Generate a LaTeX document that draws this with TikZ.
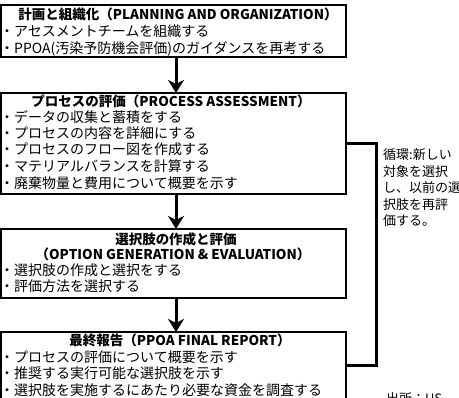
\documentclass[tikz,border=0pt]{standalone}
\usepackage{fontspec}
\setmainfont{Noto Sans CJK JP}
\usetikzlibrary{arrows.meta}
\begin{document}
\begin{tikzpicture}[x=1pt,y=-1pt,
  box/.style={draw, line width=1.3pt, minimum width=345pt, anchor=north west, inner sep=0pt, outer sep=0pt},
  ttl/.style={anchor=base, inner sep=0pt, font=\fontsize{13.5}{16}\selectfont\bfseries},
  itm/.style={anchor=base west, inner sep=0pt, font=\fontsize{14}{16}\selectfont},
  note/.style={anchor=base west, inner sep=0pt, font=\fontsize{13}{15}\selectfont},
  flow/.style={line width=3pt, -{Stealth[length=13pt,width=16pt,inset=4pt]}},
  loopline/.style={line width=3pt}]
\useasboundingbox (0,0) rectangle (459,398);
\clip (0,0) rectangle (459,398);
% boxes
\node[box, minimum height=52pt] (b1) at (1,5) {};
\node[box, minimum height=101pt] (b2) at (1,93) {};
\node[box, minimum height=69pt] (b3) at (1,229) {};
\node[box, minimum height=67pt] (b4) at (1,332) {};
% box 1
\node[ttl] (t1) at (178,19.5) {計画と組織化（PLANNING AND ORGANIZATION）};
\node[itm] (i11) at (0,37) {・アセスメントチームを組織する};
\node[itm] (i12) at (0,53.5) {・PPOA(汚染予防機会評価)のガイダンスを再考する};
% box 2
\node[ttl] (t2) at (171,107) {プロセスの評価（PROCESS ASSESSMENT）};
\node[itm] (i21) at (0,123) {・データの収集と蓄積をする};
\node[itm] (i22) at (0,139) {・プロセスの内容を詳細にする};
\node[itm] (i23) at (0,155) {・プロセスのフロー図を作成する};
\node[itm] (i24) at (0,172) {・マテリアルバランスを計算する};
\node[itm] (i25) at (0,189) {・廃棄物量と費用について概要を示す};
% box 3
\node[ttl] (t3a) at (176,245) {選択肢の作成と評価};
\node[ttl] (t3b) at (173,260) {（OPTION GENERATION \& EVALUATION）};
\node[itm] (i31) at (0,276) {・選択肢の作成と選択をする};
\node[itm] (i32) at (0,292) {・評価方法を選択する};
% box 4
\node[ttl] (t4) at (180,346) {最終報告（PPOA FINAL REPORT）};
\node[itm] (i41) at (0,362.5) {・プロセスの評価について概要を示す};
\node[itm] (i42) at (0,379) {・推奨する実行可能な選択肢を示す};
\node[itm] (i43) at (0,395.5) {・選択肢を実施するにあたり必要な資金を調査する};
% arrows
\draw[flow] ([xshift=2.5pt]b1.south) -- ([xshift=2.5pt]b2.north);
\draw[flow] ([xshift=2.5pt]b2.south) -- ([xshift=2.5pt]b3.north);
\draw[flow] ([xshift=2.5pt]b3.south) -- ([xshift=2.5pt]b4.north);
% loop bracket
\coordinate (lp) at (376,0);
\draw[loopline] (b2.east) -| (lp |- b4.east) -- (b4.east);
% side note
\node[note] (n1) at (383,160) {循環:新しい};
\node[note] (n2) at (383,176.5) {対象を選択};
\node[note] (n3) at (383,193) {し、以前の選};
\node[note] (n4) at (383,209.5) {択肢を再評};
\node[note] (n5) at (383,226) {価する。};
\node[note] (src) at (386,404) {出所：US};
\end{tikzpicture}
\end{document}
